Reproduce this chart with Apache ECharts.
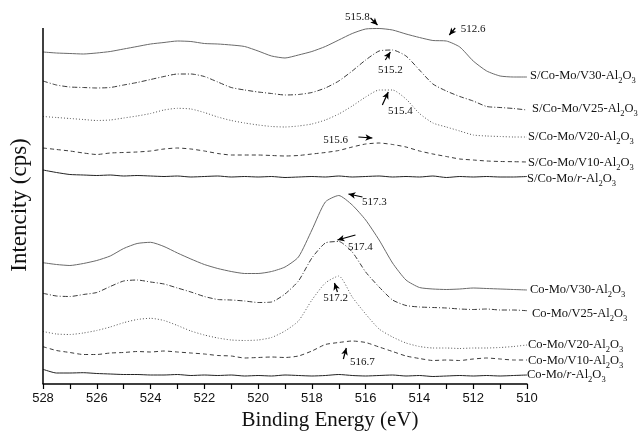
<!DOCTYPE html>
<html>
<head>
<meta charset="utf-8">
<script src="https://cdn.jsdelivr.net/npm/echarts@6/dist/echarts.min.js"></script>
<style>
  html, body { margin: 0; padding: 0; background: #fff; }
  #main { width: 640px; height: 441px; }
</style>
</head>
<body>
<div id="main"></div>
<script>
// binding energy (eV), sampled every 0.5 eV
var energy = [528, 527.5, 527, 526.5, 526, 525.5, 525, 524.5, 524, 523.5, 523, 522.5, 522,
  521.5, 521, 520.5, 520, 519.5, 519, 518.5, 518, 517.5, 517, 516.5, 516, 515.5, 515,
  514.5, 514, 513.5, 513, 512.5, 512, 511.5, 511, 510.5, 510];

// stacked (offset) intensities, arbitrary cps units
var sV30 = [332, 331, 330.5, 330, 331, 332.5, 335, 337.5, 340, 341.5, 343, 342.5, 340.5, 340, 339, 337.5, 333, 328, 326, 329, 332.5, 337.5, 344, 350.5, 355, 355.5, 354, 350, 346.5, 343.5, 343, 337, 323, 313, 308, 307, 307];
var sV25 = [303, 299, 297, 296.5, 296, 296.5, 299, 301.5, 304.5, 307.5, 310, 310, 307.5, 302, 296.5, 294, 292, 290.5, 289, 289.5, 291.5, 296, 303, 313, 324, 333, 334, 328, 314, 300, 293, 287.5, 283, 277.5, 276.5, 275.5, 274];
var sV20 = [267.5, 266.5, 265.5, 264.5, 263.5, 264, 266, 268, 270.5, 274, 275.7, 275, 271.5, 267, 263.5, 261, 259, 257.5, 257, 258, 260, 264, 270, 278, 287, 294, 294, 285, 270.5, 261, 257, 253, 249, 248, 247.5, 247, 247];
var sV10 = [236, 234.5, 233, 231, 229.5, 231, 231.5, 232, 233, 235, 236, 235, 233, 230.5, 229, 229, 229, 228.5, 228, 228.5, 230, 231.5, 233.5, 237, 240, 241, 239.5, 237, 233, 230, 227.5, 225, 224, 223, 222.5, 222.3, 222];
var sR = [214, 211.5, 209.5, 209, 208.5, 209, 208, 208.5, 208, 207.5, 208, 207, 207.5, 208, 207, 207.5, 207, 207.5, 206.5, 207, 207.5, 207, 208, 207, 207.5, 208, 207, 207.5, 207, 208, 206.5, 207.5, 207, 207.5, 207, 207, 207.5];
var cV30 = [121.3, 119.5, 118.5, 120.5, 123.5, 128, 135.5, 140.5, 141.7, 137.5, 131, 125, 119.5, 115.5, 112.5, 110.5, 110.5, 112.5, 117, 127, 154, 182, 188.5, 179, 164, 144, 121, 104, 96.5, 95, 94.5, 95, 96, 95.5, 95, 94.5, 94];
var cV25 = [90.7, 88, 87.5, 89.5, 91.5, 97.5, 103, 104, 102, 100, 96, 92, 87.5, 84.5, 84, 83, 81.5, 82, 90, 103, 126, 141, 142.5, 132, 112, 97, 84, 78.5, 77, 76.5, 76, 75, 74.5, 75, 74, 74, 73.3];
var cV20 = [52.5, 50, 49.5, 51, 53.5, 57, 61.3, 64.5, 65.7, 63.5, 58.5, 53, 49, 46, 44, 43.5, 44, 46.5, 53, 63, 84, 101, 108, 87, 70, 55, 47, 41, 37.5, 36, 36, 35.5, 36, 36, 36.5, 37.5, 39];
var cV10 = [37.3, 33.5, 31.5, 29.5, 29.5, 31, 31.5, 32.5, 32, 33, 32, 31, 30, 28.5, 28, 26, 26.5, 27, 26.5, 28, 33, 39.5, 41.5, 43, 41.5, 37, 32.5, 28, 25.5, 23.5, 24, 23.5, 25, 26, 25, 24, 24];
var cR = [14.7, 11, 11, 11.3, 10.5, 10, 9.5, 9.5, 9, 9, 9.5, 8.5, 9, 8.5, 9, 8, 8.5, 8, 9, 8.5, 8, 8.5, 9.5, 8.5, 8, 8.5, 9, 8, 8.5, 7.5, 8, 8.5, 8, 8.5, 8, 8.5, 9];

var seriesNames = ['S/Co-Mo/V30', 'S/Co-Mo/V25', 'S/Co-Mo/V20', 'S/Co-Mo/V10', 'S/Co-Mo/r',
  'Co-Mo/V30', 'Co-Mo/V25', 'Co-Mo/V20', 'Co-Mo/V10', 'Co-Mo/r'];
var seriesValues = [sV30, sV25, sV20, sV10, sR, cV30, cV25, cV20, cV10, cR];

// peak annotations: series index, text, text position [eV, cps], arrow from, arrow to
var annotSeries = [0, 0, 1, 2, 3, 5, 6, 7, 8];
var annotText = ['515.8', '512.6', '515.2', '515.4', '515.6', '517.3', '517.4', '517.2', '516.7'];
var annotTextAt = [[516.31, 367], [512.0, 355], [515.08, 314], [514.71, 273], [517.12, 244],
  [515.68, 182], [516.2, 137], [517.12, 86], [516.12, 22]];
var annotFrom = [[515.82, 366], [512.67, 356], [515.27, 324], [515.38, 279], [516.27, 247],
  [516.12, 187], [516.38, 149], [517.05, 92], [516.83, 25]];
var annotTo = [[515.56, 359], [512.89, 349], [515.08, 332], [515.16, 292], [515.75, 246],
  [516.64, 190], [517.05, 144], [517.16, 101], [516.72, 36]];

// visible extent of the intensity axis
var yAxisTop = 356;

var lineTypes = ['solid', [5, 2, 1, 2], [1, 2], [4, 3], 'solid',
  'solid', [5, 2, 1, 2], [1, 2], [4, 3], 'solid'];
var lineColors = ['#6a6a6a', '#3a3a3a', '#555', '#3a3a3a', '#222',
  '#6a6a6a', '#3a3a3a', '#555', '#3a3a3a', '#222'];
var labelOffsets = [[3, -1], [5, -1], [1, 0], [1, 1], [0, 3],
  [3, 0], [5, 4], [1, 0], [1, 1], [0, 0]];

var myChart = echarts.init(document.getElementById('main'));

function richLabel(name) {
  // "S/Co-Mo/r" -> italic r ; then -Al2O3 with subscripts
  var parts = name.split('/');
  var last = parts.pop();
  var head = '{n|' + parts.join('/') + '/}';
  var body = last === 'r' ? '{i|r}' : '{n|' + last + '}';
  return head + body + '{n|-Al}{s|2}{n|O}{s|3}';
}

var series = seriesValues.map(function (vals, k) {
  var marksLine = [];
  var marksPoint = [];
  annotSeries.forEach(function (si, a) {
    if (si !== k) return;
    marksLine.push([{ coord: annotFrom[a] }, { coord: annotTo[a] }]);
    marksPoint.push({ coord: annotTextAt[a], value: annotText[a] });
  });
  if (k === seriesValues.length - 1) {
    // left frame line of the plot
    marksLine.push([
      { coord: [528, 0], symbol: 'none', lineStyle: { width: 1.5 } },
      { coord: [528, yAxisTop], symbol: 'none' }
    ]);
  }
  return {
    name: seriesNames[k],
    type: 'line',
    data: vals.map(function (v, i) { return [energy[i], v]; }),
    showSymbol: false,
    smooth: 0.2,
    clip: false,
    lineStyle: { width: 1, color: lineColors[k], type: lineTypes[k] },
    endLabel: {
      show: true,
      distance: 0,
      align: 'left',
      offset: labelOffsets[k],
      formatter: richLabel(seriesNames[k]),
      rich: {
        n: { fontFamily: 'Liberation Serif', fontSize: 12.5, color: '#111', verticalAlign: 'top', lineHeight: 14 },
        i: { fontFamily: 'Liberation Serif', fontStyle: 'italic', fontSize: 12.5, color: '#111', verticalAlign: 'top', lineHeight: 14 },
        s: { fontFamily: 'Liberation Serif', fontSize: 8.5, color: '#111', verticalAlign: 'top', lineHeight: 9, padding: [7, 0, 0, 0] }
      }
    },
    markLine: marksLine.length ? {
      silent: true,
      animation: false,
      symbol: ['none', 'arrow'],
      symbolSize: [5, 7],
      lineStyle: { color: '#000', width: 1.2, type: 'solid' },
      label: { show: false },
      data: marksLine
    } : undefined,
    markPoint: marksPoint.length ? {
      silent: true,
      symbol: 'circle',
      symbolSize: 1,
      itemStyle: { color: 'rgba(0,0,0,0)' },
      label: {
        show: true,
        position: 'inside',
        formatter: '{c}',
        fontFamily: 'Liberation Serif',
        fontSize: 11,
        color: '#111'
      },
      data: marksPoint
    } : undefined
  };
});

myChart.setOption({
  animation: false,
  grid: { left: 42, right: 113, top: 4, bottom: 57 },
  xAxis: {
    type: 'value',
    min: 510,
    max: 528,
    interval: 1,
    inverse: true,
    name: 'Binding Energy (eV)',
    nameLocation: 'middle',
    nameGap: 26,
    nameTextStyle: { fontFamily: 'Liberation Serif', fontSize: 21, color: '#111', padding: [0, 0, 0, 90] },
    axisLine: { lineStyle: { color: '#000', width: 1.5 } },
    axisTick: { show: true, length: 5, lineStyle: { color: '#000', width: 1.2 } },
    axisLabel: {
      fontFamily: 'Liberation Sans',
      fontSize: 13,
      color: '#111',
      margin: 8,
      formatter: function (v) { return v % 2 === 0 ? String(v) : ''; }
    },
    splitLine: { show: false }
  },
  yAxis: {
    type: 'value',
    min: 0,
    max: 380,
    name: 'Intencity (cps)',
    nameLocation: 'middle',
    nameGap: 12,
    nameTextStyle: { fontFamily: 'Liberation Serif', fontSize: 23, color: '#111', padding: [0, 22, 0, 0] },
    axisLine: { show: false },
    axisTick: { show: false },
    axisLabel: { show: false },
    splitLine: { show: false }
  },
  series: series
});
</script>
</body>
</html>
